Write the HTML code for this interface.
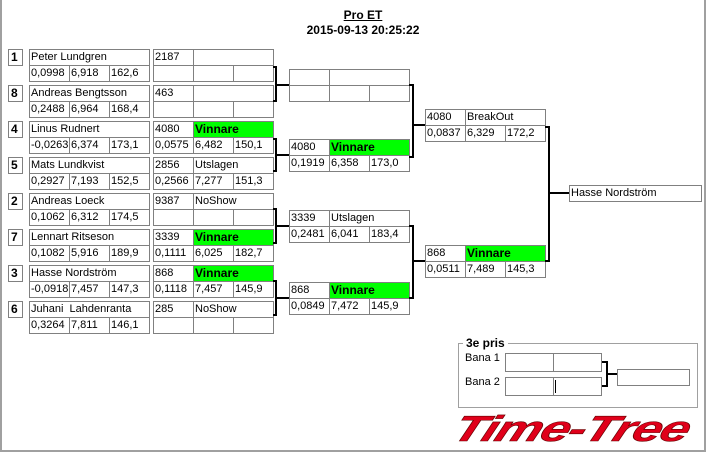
<!DOCTYPE html>
<html><head><meta charset="utf-8"><style>
body{margin:0;width:706px;height:452px;background:#fff;position:relative;overflow:hidden;font-family:"Liberation Sans",sans-serif;font-size:11px;color:#000}
.c{position:absolute;box-sizing:border-box;border:1px solid #808080;height:17px;line-height:15px;padding-left:1px;white-space:nowrap;overflow:hidden;background:#fff}
.s{font-weight:bold;font-size:12px;padding-left:2px}
.w{width:41px}.n{width:121px}.t{width:81px}
.g{background:#00ff00;font-weight:bold;font-size:12px}
.txt{position:absolute;white-space:nowrap}
</style></head><body>
<div style="position:absolute;left:0;top:0;width:706px;height:452px;box-sizing:border-box;border-left:2px solid #a0a0a0;border-right:2px solid #a0a0a0;border-bottom:2px solid #a0a0a0"></div>
<div class="txt" style="left:0;width:726px;text-align:center;top:8px;font-weight:bold;font-size:12px;text-decoration:underline">Pro ET</div>
<div class="txt" style="left:0;width:726px;text-align:center;top:23px;font-weight:bold;font-size:12px">2015-09-13 20:25:22</div>

<div class="c s" style="left:8px;top:49px;width:15px">1</div>
<div class="c n" style="left:29px;top:49px">Peter Lundgren</div>
<div class="c w" style="left:29px;top:65px">0,0998</div><div class="c w" style="left:69px;top:65px">6,918</div><div class="c w" style="left:109px;top:65px">162,6</div>
<div class="c w" style="left:153px;top:49px">2187</div><div class="c t" style="left:193px;top:49px"></div>
<div class="c w" style="left:153px;top:65px"></div><div class="c w" style="left:193px;top:65px"></div><div class="c w" style="left:233px;top:65px"></div>

<div class="c s" style="left:8px;top:85px;width:15px">8</div>
<div class="c n" style="left:29px;top:85px">Andreas Bengtsson</div>
<div class="c w" style="left:29px;top:101px">0,2488</div><div class="c w" style="left:69px;top:101px">6,964</div><div class="c w" style="left:109px;top:101px">168,4</div>
<div class="c w" style="left:153px;top:85px">463</div><div class="c t" style="left:193px;top:85px"></div>
<div class="c w" style="left:153px;top:101px"></div><div class="c w" style="left:193px;top:101px"></div><div class="c w" style="left:233px;top:101px"></div>

<div class="c s" style="left:8px;top:121px;width:15px">4</div>
<div class="c n" style="left:29px;top:121px">Linus Rudnert</div>
<div class="c w" style="left:29px;top:137px">-0,0263</div><div class="c w" style="left:69px;top:137px">6,374</div><div class="c w" style="left:109px;top:137px">173,1</div>
<div class="c w" style="left:153px;top:121px">4080</div><div class="c t g" style="left:193px;top:121px">Vinnare</div>
<div class="c w" style="left:153px;top:137px">0,0575</div><div class="c w" style="left:193px;top:137px">6,482</div><div class="c w" style="left:233px;top:137px">150,1</div>

<div class="c s" style="left:8px;top:157px;width:15px">5</div>
<div class="c n" style="left:29px;top:157px">Mats Lundkvist</div>
<div class="c w" style="left:29px;top:173px">0,2927</div><div class="c w" style="left:69px;top:173px">7,193</div><div class="c w" style="left:109px;top:173px">152,5</div>
<div class="c w" style="left:153px;top:157px">2856</div><div class="c t" style="left:193px;top:157px">Utslagen</div>
<div class="c w" style="left:153px;top:173px">0,2566</div><div class="c w" style="left:193px;top:173px">7,277</div><div class="c w" style="left:233px;top:173px">151,3</div>

<div class="c s" style="left:8px;top:193px;width:15px">2</div>
<div class="c n" style="left:29px;top:193px">Andreas Loeck</div>
<div class="c w" style="left:29px;top:209px">0,1062</div><div class="c w" style="left:69px;top:209px">6,312</div><div class="c w" style="left:109px;top:209px">174,5</div>
<div class="c w" style="left:153px;top:193px">9387</div><div class="c t" style="left:193px;top:193px">NoShow</div>
<div class="c w" style="left:153px;top:209px"></div><div class="c w" style="left:193px;top:209px"></div><div class="c w" style="left:233px;top:209px"></div>

<div class="c s" style="left:8px;top:229px;width:15px">7</div>
<div class="c n" style="left:29px;top:229px">Lennart Ritseson</div>
<div class="c w" style="left:29px;top:245px">0,1082</div><div class="c w" style="left:69px;top:245px">5,916</div><div class="c w" style="left:109px;top:245px">189,9</div>
<div class="c w" style="left:153px;top:229px">3339</div><div class="c t g" style="left:193px;top:229px">Vinnare</div>
<div class="c w" style="left:153px;top:245px">0,1111</div><div class="c w" style="left:193px;top:245px">6,025</div><div class="c w" style="left:233px;top:245px">182,7</div>

<div class="c s" style="left:8px;top:265px;width:15px">3</div>
<div class="c n" style="left:29px;top:265px">Hasse Nordström</div>
<div class="c w" style="left:29px;top:281px">-0,0918</div><div class="c w" style="left:69px;top:281px">7,457</div><div class="c w" style="left:109px;top:281px">147,3</div>
<div class="c w" style="left:153px;top:265px">868</div><div class="c t g" style="left:193px;top:265px">Vinnare</div>
<div class="c w" style="left:153px;top:281px">0,1118</div><div class="c w" style="left:193px;top:281px">7,457</div><div class="c w" style="left:233px;top:281px">145,9</div>

<div class="c s" style="left:8px;top:301px;width:15px">6</div>
<div class="c n" style="left:29px;top:301px">Juhani&nbsp; Lahdenranta</div>
<div class="c w" style="left:29px;top:317px">0,3264</div><div class="c w" style="left:69px;top:317px">7,811</div><div class="c w" style="left:109px;top:317px">146,1</div>
<div class="c w" style="left:153px;top:301px">285</div><div class="c t" style="left:193px;top:301px">NoShow</div>
<div class="c w" style="left:153px;top:317px"></div><div class="c w" style="left:193px;top:317px"></div><div class="c w" style="left:233px;top:317px"></div>

<div class="c w" style="left:289px;top:69px"></div><div class="c t" style="left:329px;top:69px"></div>
<div class="c w" style="left:289px;top:85px"></div><div class="c w" style="left:329px;top:85px"></div><div class="c w" style="left:369px;top:85px"></div>

<div class="c w" style="left:289px;top:139px">4080</div><div class="c t g" style="left:329px;top:139px">Vinnare</div>
<div class="c w" style="left:289px;top:155px">0,1919</div><div class="c w" style="left:329px;top:155px">6,358</div><div class="c w" style="left:369px;top:155px">173,0</div>

<div class="c w" style="left:289px;top:210px">3339</div><div class="c t" style="left:329px;top:210px">Utslagen</div>
<div class="c w" style="left:289px;top:226px">0,2481</div><div class="c w" style="left:329px;top:226px">6,041</div><div class="c w" style="left:369px;top:226px">183,4</div>

<div class="c w" style="left:289px;top:282px">868</div><div class="c t g" style="left:329px;top:282px">Vinnare</div>
<div class="c w" style="left:289px;top:298px">0,0849</div><div class="c w" style="left:329px;top:298px">7,472</div><div class="c w" style="left:369px;top:298px">145,9</div>

<div class="c w" style="left:425px;top:109px">4080</div><div class="c t" style="left:465px;top:109px">BreakOut</div>
<div class="c w" style="left:425px;top:125px">0,0837</div><div class="c w" style="left:465px;top:125px">6,329</div><div class="c w" style="left:505px;top:125px">172,2</div>

<div class="c w" style="left:425px;top:245px">868</div><div class="c t g" style="left:465px;top:245px">Vinnare</div>
<div class="c w" style="left:425px;top:261px">0,0511</div><div class="c w" style="left:465px;top:261px">7,489</div><div class="c w" style="left:505px;top:261px">145,3</div>

<div class="c" style="left:569px;top:185px;width:133px">Hasse Nordström</div>

<div style="position:absolute;left:458px;top:343px;width:240px;height:65px;box-sizing:border-box;border:1px solid #a0a0a0"></div>
<div class="txt" style="left:463px;top:336px;background:#fff;padding:0 3px;font-weight:bold;font-size:12px">3e pris</div>
<div class="txt" style="left:465px;top:352px">Bana 1</div>
<div class="txt" style="left:465px;top:376px">Bana 2</div>
<div class="c" style="left:505px;top:353px;width:49px;height:19px"></div><div class="c" style="left:553px;top:353px;width:49px;height:19px"></div>
<div class="c" style="left:505px;top:377px;width:49px;height:19px"></div><div class="c" style="left:553px;top:377px;width:49px;height:19px"></div>
<div style="position:absolute;left:555px;top:380px;width:1px;height:13px;background:#000"></div>
<div class="c" style="left:617px;top:369px;width:73px;height:17px"></div>

<svg width="706" height="452" style="position:absolute;left:0;top:0" fill="none" stroke="#000" stroke-width="2">
<path d="M273,67H276V101H273M276,85H289"/>
<path d="M273,139H276V171H273M276,155H289"/>
<path d="M273,209H276V243H273M276,226H289"/>
<path d="M273,281H276V315H273M276,298H289"/>
<path d="M409,85H413V157H409M413,125H425"/>
<path d="M409,226H413V298H409M413,261H425"/>
<path d="M545,127H549V261H545M549,193H569"/>
<path d="M602,362H607V386H602M607,374H617"/>
</svg>

<div class="txt" style="left:462px;top:410px;font-size:36px;font-weight:bold;font-style:italic;color:#e0001a;letter-spacing:-1px;transform-origin:0 0;transform:scaleX(1.45) skewX(-15deg);-webkit-text-stroke:0.6px #600;line-height:38px">Time-Tree</div>
</body></html>
